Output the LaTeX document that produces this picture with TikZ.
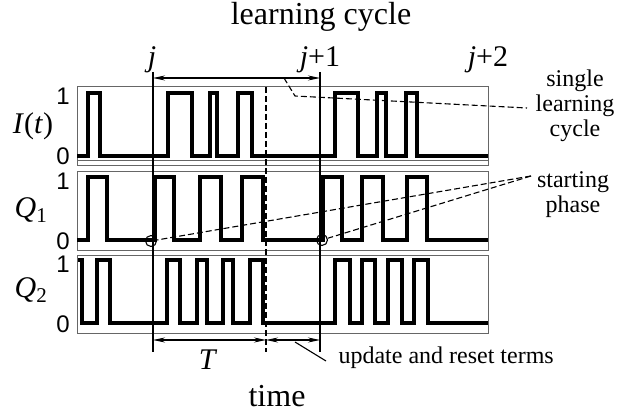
\documentclass[tikz,border=0pt]{standalone}
\usepackage{fontspec}
\setmainfont{Liberation Serif}
\setsansfont{Liberation Sans}
\usepackage{tikz}
\usetikzlibrary{arrows.meta}

\tikzset{
  panel/.style={draw=black!60, line width=0.9pt},
  wave/.style={line width=3.3pt, line join=miter},
  guide/.style={line width=1.1pt},
  leader/.style={line width=1.1pt, dash pattern=on 6pt off 3pt},
  span/.style={line width=1.1pt, {Stealth[length=12pt,width=5pt]}-{Stealth[length=12pt,width=5pt]}},
  lvl/.style={font=\sffamily\fontsize{24}{26}\selectfont},
  big/.style={font=\fontsize{32}{34}\selectfont},
  mid/.style={font=\fontsize{24}{25}\selectfont, align=center},
  sig/.style={font=\fontsize{30}{31}\selectfont}
}

\begin{document}
\begin{tikzpicture}[x=1pt, y=-1pt]
    \useasboundingbox (0,0) rectangle (632,414);

    % panels
    \draw[panel] (77,86) rectangle (488,165);
    \draw[panel] (77,160) -- (488,160);
    \draw[panel] (77,171) rectangle (488,250);
    \draw[panel] (77,255) rectangle (488,333);

    % signals
    \draw[wave] (77,156) -| (88,93) -| (100,156) -| (168,93) -| (192,156)
        -| (210,93) -| (217,156) -| (238,93) -| (252,156) -| (335,93)
        -| (358,156) -| (377,93) -| (386,156) -| (406,93) -| (417,156) -- (488,156);
    \draw[wave] (77,240) -| (88,177) -| (107,240) -| (155,177) -| (174,240)
        -| (200,177) -| (221,240) -| (242,177) -| (263,240) -| (323,177)
        -| (342,240) -| (362,177) -| (383,240) -| (407,177) -| (427,240) -- (488,240);
    \draw[wave] (78,260) -| (82,323) -| (97,260) -| (110,323) -| (167,260)
        -| (180,323) -| (197,260) -| (207,323) -| (223,260) -| (233,323)
        -| (250,260) -| (263,323) -| (335,260) -| (350,323) -| (362,260)
        -| (375,323) -| (388,260) -| (402,323) -| (414,260) -| (428,323) -- (488,323);

    % level labels
    \node(one1)[lvl] at (63,96) {1};
    \node(zero1)[lvl] at (63,156) {0};
    \node(one2)[lvl] at (63,181) {1};
    \node(zero2)[lvl] at (63,241) {0};
    \node(one3)[lvl] at (63,264) {1};
    \node(zero3)[lvl] at (63,324) {0};

    \node(It)[sig] at (33,126) {\textit{I}(\textit{t})};
    \node(Q1)[sig] at (31,210) {\textit{Q}\textsubscript{1}};
    \node(Q2)[sig] at (31,290) {\textit{Q}\textsubscript{2}};

    % cycle boundaries
    \coordinate(jtop) at (153,72);
    \coordinate(jbot) at (153,352);
    \coordinate(rtop) at (266,87);
    \coordinate(rbot) at (266,352);
    \coordinate(ktop) at (320,72);
    \coordinate(kbot) at (320,352);
    \draw[guide] (jtop) -- (jbot);
    \draw[guide, dash pattern=on 6pt off 3pt] (rtop) -- (rbot);
    \draw[guide] (ktop) -- (kbot);

    \node(title)[big] at (321,17) {learning cycle};
    \node(j0)[sig] at (152,60) {\textit{j}};
    \node(j1)[sig] at (320,60) {\textit{j}+1};
    \node(j2)[sig] at (488,60) {\textit{j}+2};

    % arrows
    \coordinate(cyca) at (153,78);
    \coordinate(cycb) at (320,78);
    \draw[span] (cyca) -- (cycb);
    \coordinate(ta) at (153,340);
    \coordinate(tb) at (266,340);
    \coordinate(ub) at (320,340);
    \draw[span] (ta) -- (tb);
    \draw[span] (tb) -- (ub);
    \node(T)[sig] at (208,360) {\textit{T}};
    \node(time)[big] at (277,396) {time};

    % annotations
    \node(single)[mid] at (575,106) {single\\learning\\cycle};
    \coordinate(s1) at (284,78);
    \coordinate(s2) at (295,96);
    \coordinate(s3) at (527,108);
    \draw[leader] (s1) -- (s2) -- (s3);

    \node(start)[mid] at (573,195) {starting\\phase};
    \node(c1)[draw, circle, line width=1.1pt, minimum size=11pt, inner sep=0pt] at (151,241) {};
    \node(c2)[draw, circle, line width=1.1pt, minimum size=11pt, inner sep=0pt] at (322,240) {};
    \coordinate(sp) at (531,176);
    \draw[leader] (sp) -- (c1);
    \draw[leader] (sp) -- (c2);

    \node(update)[mid, anchor=west] at (335,358) {update and reset terms};
    \coordinate(u1) at (295,342);
    \coordinate(u2) at (326,361);
    \draw[guide] (u1) -- (u2);
\end{tikzpicture}
\end{document}
